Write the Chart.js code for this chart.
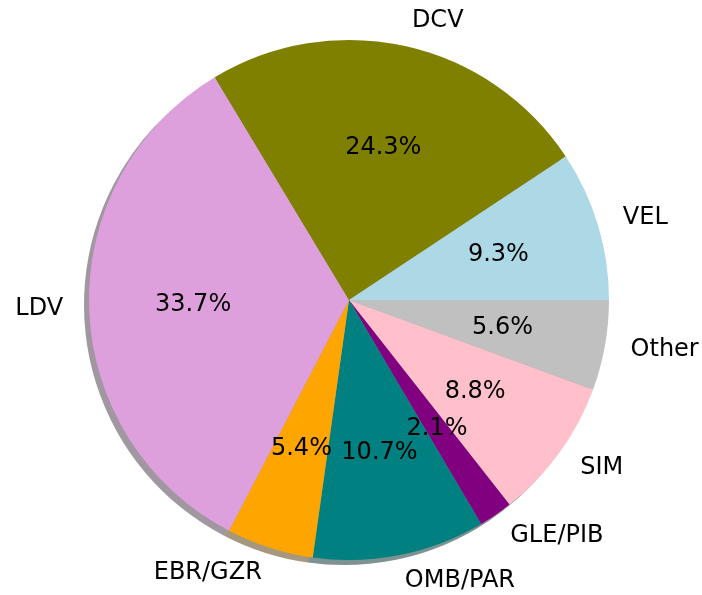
<!DOCTYPE html>
<html>
<head>
<meta charset="utf-8">
<script src="https://cdn.jsdelivr.net/npm/chart.js@4.4.0/dist/chart.umd.min.js"></script>
<style>
  html, body { margin: 0; padding: 0; background: #fff; }
  #wrap { width: 702px; height: 595px; position: relative; }
</style>
</head>
<body>
<div id="wrap"><canvas id="pie"></canvas></div>
<script>
// Slices in the order they appear, counter-clockwise from 3 o'clock
const categories = ['VEL', 'DCV', 'LDV', 'EBR/GZR', 'OMB/PAR', 'GLE/PIB', 'SIM', 'Other'];
const shares = [9.3, 24.3, 33.7, 5.4, 10.7, 2.1, 8.8, 5.6];
const sliceColors = ['#add8e6', '#808000', '#dda0dd', '#ffa500', '#008080', '#800080', '#ffc0cb', '#c0c0c0'];

// Chart.js goes clockwise, so feed it reversed to get the counter-clockwise layout
const labelsCw = categories.slice().reverse();
const sharesCw = shares.slice().reverse();
const colorsCw = sliceColors.slice().reverse();

const FONT = '24px "DejaVu Sans", sans-serif';

// darker, half transparent copy of each wedge, shifted down-left
const shadowPlugin = {
  id: 'pieShadow',
  beforeDatasetsDraw(chart) {
    const ctx = chart.ctx;
    const meta = chart.getDatasetMeta(0);
    ctx.save();
    ctx.translate(-5, 5);
    meta.data.forEach((arc, i) => {
      const hex = colorsCw[i];
      const r = parseInt(hex.slice(1, 3), 16) * 0.3;
      const g = parseInt(hex.slice(3, 5), 16) * 0.3;
      const b = parseInt(hex.slice(5, 7), 16) * 0.3;
      ctx.fillStyle = `rgba(${r},${g},${b},0.5)`;
      ctx.beginPath();
      ctx.moveTo(arc.x, arc.y);
      ctx.arc(arc.x, arc.y, arc.outerRadius, arc.startAngle, arc.endAngle);
      ctx.closePath();
      ctx.fill();
    });
    ctx.restore();
  }
};

// outer category labels and inner percentage labels
const labelPlugin = {
  id: 'pieLabels',
  afterDatasetsDraw(chart) {
    const ctx = chart.ctx;
    const meta = chart.getDatasetMeta(0);
    ctx.save();
    ctx.font = FONT;
    ctx.fillStyle = '#000';
    ctx.textBaseline = 'middle';
    meta.data.forEach((arc, i) => {
      const mid = (arc.startAngle + arc.endAngle) / 2;
      const R = arc.outerRadius;
      const lx = arc.x + Math.cos(mid) * R * 1.1;
      const ly = arc.y + Math.sin(mid) * R * 1.1;
      ctx.textAlign = Math.cos(mid) > 0 ? 'left' : 'right';
      ctx.fillText(labelsCw[i], lx, ly);

      const px = arc.x + Math.cos(mid) * R * 0.6;
      const py = arc.y + Math.sin(mid) * R * 0.6;
      ctx.textAlign = 'center';
      ctx.fillText(sharesCw[i].toFixed(1) + '%', px, py);
    });
    ctx.restore();
  }
};

new Chart(document.getElementById('pie'), {
  type: 'pie',
  data: {
    labels: labelsCw,
    datasets: [{
      data: sharesCw,
      backgroundColor: colorsCw,
      borderWidth: 0
    }]
  },
  options: {
    responsive: true,
    maintainAspectRatio: false,
    animation: false,
    rotation: 90,
    layout: { padding: { left: 89, right: 93, top: 40, bottom: 35 } },
    plugins: {
      legend: { display: false },
      tooltip: { enabled: false }
    }
  },
  plugins: [shadowPlugin, labelPlugin]
});
</script>
</body>
</html>
